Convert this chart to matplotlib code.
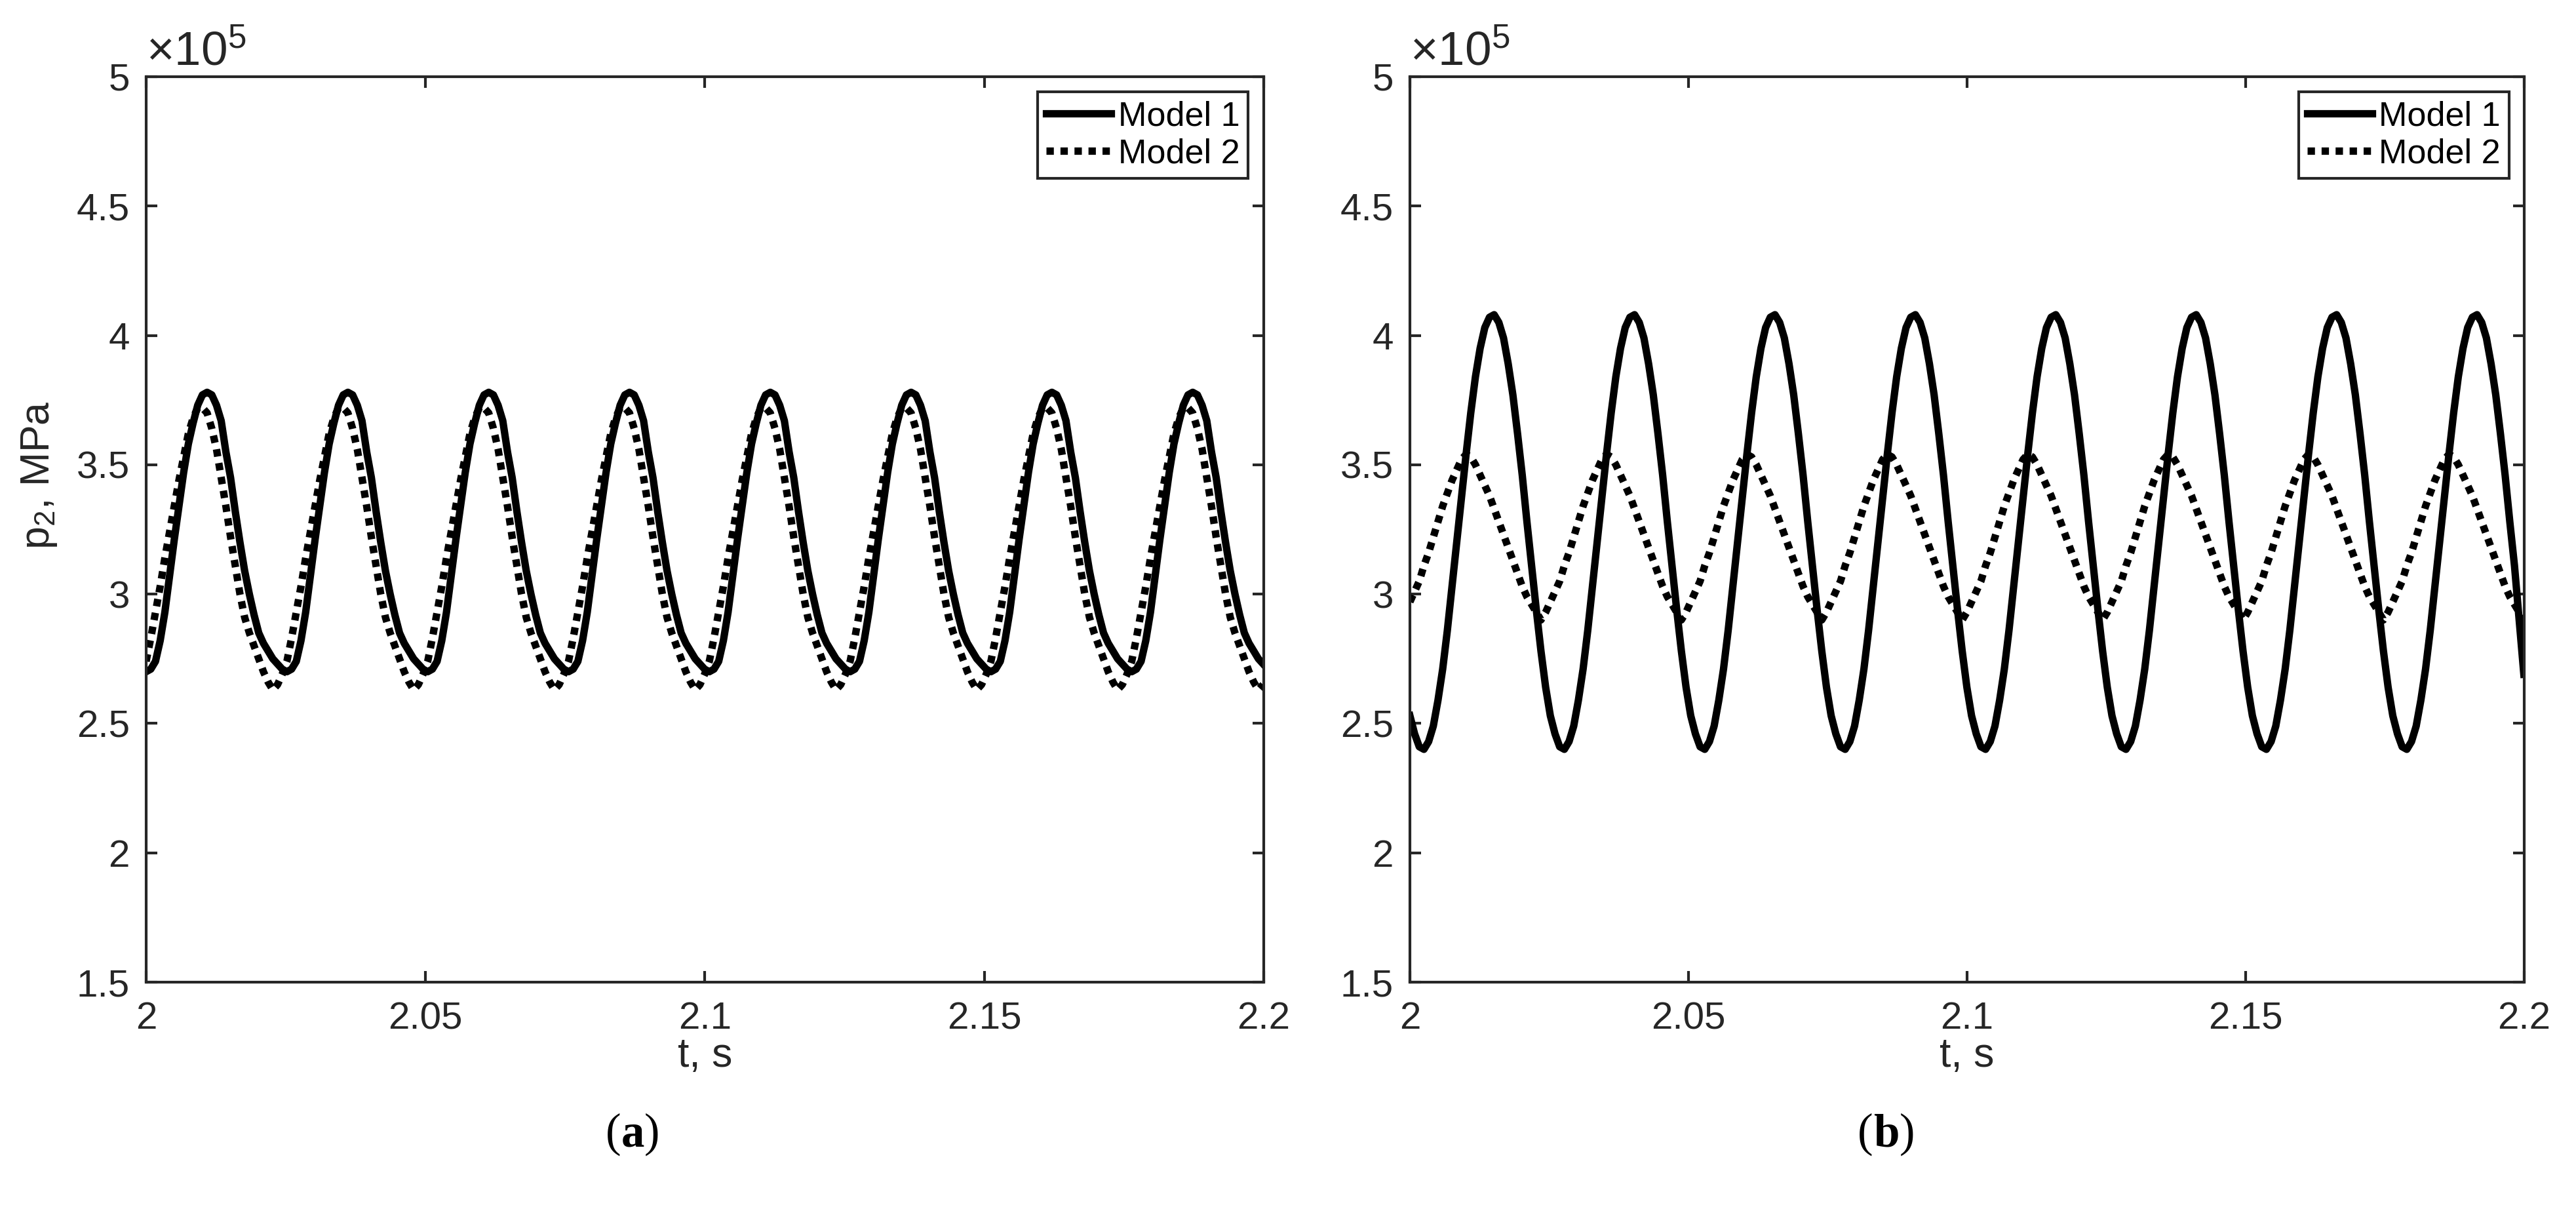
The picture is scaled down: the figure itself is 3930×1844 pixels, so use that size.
import numpy as np
import matplotlib.pyplot as plt

plt.rcParams['font.family'] = ['Liberation Sans', 'DejaVu Sans']
plt.rcParams['mathtext.fontset'] = 'custom'
plt.rcParams['mathtext.rm'] = 'Liberation Sans'
plt.rcParams['mathtext.it'] = 'Liberation Sans:italic'
plt.rcParams['mathtext.bf'] = 'Liberation Sans:bold'

AX_COLOR = '#262626'
TICK_FS = 14
LABEL_FS = 15
LEG_FS = 12.5

# time samples: every 0.84 ms (30 per 25.2 ms cycle), 2.0 ... 2.2 s
t = 2.0 + 0.00084 * np.arange(239)

# (a) p2 in units of 1e5 Pa, one row per cycle
p2_model1_a = [
    2.70, 2.71, 2.74, 2.82, 2.93, 3.07, 3.21, 3.34, 3.47, 3.58, 3.66, 3.73, 3.77, 3.78, 3.77, 3.73, 3.67, 3.55, 3.45, 3.32, 3.20, 3.09, 3.00, 2.92, 2.85, 2.81, 2.78, 2.75, 2.73, 2.71,
    2.70, 2.71, 2.74, 2.82, 2.93, 3.07, 3.21, 3.34, 3.47, 3.58, 3.66, 3.73, 3.77, 3.78, 3.77, 3.73, 3.67, 3.55, 3.45, 3.32, 3.20, 3.09, 3.00, 2.92, 2.85, 2.81, 2.78, 2.75, 2.73, 2.71,
    2.70, 2.71, 2.74, 2.82, 2.93, 3.07, 3.21, 3.34, 3.47, 3.58, 3.66, 3.73, 3.77, 3.78, 3.77, 3.73, 3.67, 3.55, 3.45, 3.32, 3.20, 3.09, 3.00, 2.92, 2.85, 2.81, 2.78, 2.75, 2.73, 2.71,
    2.70, 2.71, 2.74, 2.82, 2.93, 3.07, 3.21, 3.34, 3.47, 3.58, 3.66, 3.73, 3.77, 3.78, 3.77, 3.73, 3.67, 3.55, 3.45, 3.32, 3.20, 3.09, 3.00, 2.92, 2.85, 2.81, 2.78, 2.75, 2.73, 2.71,
    2.70, 2.71, 2.74, 2.82, 2.93, 3.07, 3.21, 3.34, 3.47, 3.58, 3.66, 3.73, 3.77, 3.78, 3.77, 3.73, 3.67, 3.55, 3.45, 3.32, 3.20, 3.09, 3.00, 2.92, 2.85, 2.81, 2.78, 2.75, 2.73, 2.71,
    2.70, 2.71, 2.74, 2.82, 2.93, 3.07, 3.21, 3.34, 3.47, 3.58, 3.66, 3.73, 3.77, 3.78, 3.77, 3.73, 3.67, 3.55, 3.45, 3.32, 3.20, 3.09, 3.00, 2.92, 2.85, 2.81, 2.78, 2.75, 2.73, 2.71,
    2.70, 2.71, 2.74, 2.82, 2.93, 3.07, 3.21, 3.34, 3.47, 3.58, 3.66, 3.73, 3.77, 3.78, 3.77, 3.73, 3.67, 3.55, 3.45, 3.32, 3.20, 3.09, 3.00, 2.92, 2.85, 2.81, 2.78, 2.75, 2.73, 2.71,
    2.70, 2.71, 2.74, 2.82, 2.93, 3.07, 3.21, 3.34, 3.47, 3.58, 3.66, 3.73, 3.77, 3.78, 3.77, 3.73, 3.67, 3.55, 3.45, 3.32, 3.20, 3.09, 3.00, 2.92, 2.85, 2.81, 2.78, 2.75, 2.73,
]
p2_model2_a = [
    2.74, 2.83, 2.93, 3.03, 3.14, 3.24, 3.34, 3.44, 3.53, 3.62, 3.68, 3.72, 3.72, 3.70, 3.64, 3.56, 3.45, 3.34, 3.22, 3.11, 3.00, 2.91, 2.85, 2.80, 2.75, 2.70, 2.66, 2.63, 2.65, 2.69,
    2.74, 2.83, 2.93, 3.03, 3.14, 3.24, 3.34, 3.44, 3.53, 3.62, 3.68, 3.72, 3.72, 3.70, 3.64, 3.56, 3.45, 3.34, 3.22, 3.11, 3.00, 2.91, 2.85, 2.80, 2.75, 2.70, 2.66, 2.63, 2.65, 2.69,
    2.74, 2.83, 2.93, 3.03, 3.14, 3.24, 3.34, 3.44, 3.53, 3.62, 3.68, 3.72, 3.72, 3.70, 3.64, 3.56, 3.45, 3.34, 3.22, 3.11, 3.00, 2.91, 2.85, 2.80, 2.75, 2.70, 2.66, 2.63, 2.65, 2.69,
    2.74, 2.83, 2.93, 3.03, 3.14, 3.24, 3.34, 3.44, 3.53, 3.62, 3.68, 3.72, 3.72, 3.70, 3.64, 3.56, 3.45, 3.34, 3.22, 3.11, 3.00, 2.91, 2.85, 2.80, 2.75, 2.70, 2.66, 2.63, 2.65, 2.69,
    2.74, 2.83, 2.93, 3.03, 3.14, 3.24, 3.34, 3.44, 3.53, 3.62, 3.68, 3.72, 3.72, 3.70, 3.64, 3.56, 3.45, 3.34, 3.22, 3.11, 3.00, 2.91, 2.85, 2.80, 2.75, 2.70, 2.66, 2.63, 2.65, 2.69,
    2.74, 2.83, 2.93, 3.03, 3.14, 3.24, 3.34, 3.44, 3.53, 3.62, 3.68, 3.72, 3.72, 3.70, 3.64, 3.56, 3.45, 3.34, 3.22, 3.11, 3.00, 2.91, 2.85, 2.80, 2.75, 2.70, 2.66, 2.63, 2.65, 2.69,
    2.74, 2.83, 2.93, 3.03, 3.14, 3.24, 3.34, 3.44, 3.53, 3.62, 3.68, 3.72, 3.72, 3.70, 3.64, 3.56, 3.45, 3.34, 3.22, 3.11, 3.00, 2.91, 2.85, 2.80, 2.75, 2.70, 2.66, 2.63, 2.65, 2.69,
    2.74, 2.83, 2.93, 3.03, 3.14, 3.24, 3.34, 3.44, 3.53, 3.62, 3.68, 3.72, 3.72, 3.70, 3.64, 3.56, 3.45, 3.34, 3.22, 3.11, 3.00, 2.91, 2.85, 2.80, 2.75, 2.70, 2.66, 2.63, 2.65,
]

# (b) p2 in units of 1e5 Pa
p2_model1_b = [
    2.53, 2.46, 2.41, 2.40, 2.43, 2.49, 2.59, 2.71, 2.86, 3.03, 3.20, 3.37, 3.54, 3.70, 3.84, 3.95, 4.03, 4.07, 4.08, 4.05, 3.99, 3.89, 3.77, 3.62, 3.46, 3.28, 3.11, 2.94, 2.78, 2.64,
    2.53, 2.46, 2.41, 2.40, 2.43, 2.49, 2.59, 2.71, 2.86, 3.03, 3.20, 3.37, 3.54, 3.70, 3.84, 3.95, 4.03, 4.07, 4.08, 4.05, 3.99, 3.89, 3.77, 3.62, 3.46, 3.28, 3.11, 2.94, 2.78, 2.64,
    2.53, 2.46, 2.41, 2.40, 2.43, 2.49, 2.59, 2.71, 2.86, 3.03, 3.20, 3.37, 3.54, 3.70, 3.84, 3.95, 4.03, 4.07, 4.08, 4.05, 3.99, 3.89, 3.77, 3.62, 3.46, 3.28, 3.11, 2.94, 2.78, 2.64,
    2.53, 2.46, 2.41, 2.40, 2.43, 2.49, 2.59, 2.71, 2.86, 3.03, 3.20, 3.37, 3.54, 3.70, 3.84, 3.95, 4.03, 4.07, 4.08, 4.05, 3.99, 3.89, 3.77, 3.62, 3.46, 3.28, 3.11, 2.94, 2.78, 2.64,
    2.53, 2.46, 2.41, 2.40, 2.43, 2.49, 2.59, 2.71, 2.86, 3.03, 3.20, 3.37, 3.54, 3.70, 3.84, 3.95, 4.03, 4.07, 4.08, 4.05, 3.99, 3.89, 3.77, 3.62, 3.46, 3.28, 3.11, 2.94, 2.78, 2.64,
    2.53, 2.46, 2.41, 2.40, 2.43, 2.49, 2.59, 2.71, 2.86, 3.03, 3.20, 3.37, 3.54, 3.70, 3.84, 3.95, 4.03, 4.07, 4.08, 4.05, 3.99, 3.89, 3.77, 3.62, 3.46, 3.28, 3.11, 2.94, 2.78, 2.64,
    2.53, 2.46, 2.41, 2.40, 2.43, 2.49, 2.59, 2.71, 2.86, 3.03, 3.20, 3.37, 3.54, 3.70, 3.84, 3.95, 4.03, 4.07, 4.08, 4.05, 3.99, 3.89, 3.77, 3.62, 3.46, 3.28, 3.11, 2.94, 2.78, 2.64,
    2.53, 2.46, 2.41, 2.40, 2.43, 2.49, 2.59, 2.71, 2.86, 3.03, 3.20, 3.37, 3.54, 3.70, 3.84, 3.95, 4.03, 4.07, 4.08, 4.05, 3.99, 3.89, 3.77, 3.62, 3.46, 3.28, 3.11, 2.90, 2.69,
]
p2_model2_b = [
    2.97, 3.01, 3.05, 3.11, 3.16, 3.22, 3.28, 3.34, 3.39, 3.44, 3.48, 3.52, 3.54, 3.53, 3.50, 3.46, 3.42, 3.38, 3.33, 3.28, 3.23, 3.18, 3.13, 3.08, 3.03, 2.99, 2.96, 2.93, 2.90, 2.93,
    2.97, 3.01, 3.05, 3.11, 3.16, 3.22, 3.28, 3.34, 3.39, 3.44, 3.48, 3.52, 3.54, 3.53, 3.50, 3.46, 3.42, 3.38, 3.33, 3.28, 3.23, 3.18, 3.13, 3.08, 3.03, 2.99, 2.96, 2.93, 2.90, 2.93,
    2.97, 3.01, 3.05, 3.11, 3.16, 3.22, 3.28, 3.34, 3.39, 3.44, 3.48, 3.52, 3.54, 3.53, 3.50, 3.46, 3.42, 3.38, 3.33, 3.28, 3.23, 3.18, 3.13, 3.08, 3.03, 2.99, 2.96, 2.93, 2.90, 2.93,
    2.97, 3.01, 3.05, 3.11, 3.16, 3.22, 3.28, 3.34, 3.39, 3.44, 3.48, 3.52, 3.54, 3.53, 3.50, 3.46, 3.42, 3.38, 3.33, 3.28, 3.23, 3.18, 3.13, 3.08, 3.03, 2.99, 2.96, 2.93, 2.90, 2.93,
    2.97, 3.01, 3.05, 3.11, 3.16, 3.22, 3.28, 3.34, 3.39, 3.44, 3.48, 3.52, 3.54, 3.53, 3.50, 3.46, 3.42, 3.38, 3.33, 3.28, 3.23, 3.18, 3.13, 3.08, 3.03, 2.99, 2.96, 2.93, 2.90, 2.93,
    2.97, 3.01, 3.05, 3.11, 3.16, 3.22, 3.28, 3.34, 3.39, 3.44, 3.48, 3.52, 3.54, 3.53, 3.50, 3.46, 3.42, 3.38, 3.33, 3.28, 3.23, 3.18, 3.13, 3.08, 3.03, 2.99, 2.96, 2.93, 2.90, 2.93,
    2.97, 3.01, 3.05, 3.11, 3.16, 3.22, 3.28, 3.34, 3.39, 3.44, 3.48, 3.52, 3.54, 3.53, 3.50, 3.46, 3.42, 3.38, 3.33, 3.28, 3.23, 3.18, 3.13, 3.08, 3.03, 2.99, 2.96, 2.93, 2.90, 2.93,
    2.97, 3.01, 3.05, 3.11, 3.16, 3.22, 3.28, 3.34, 3.39, 3.44, 3.48, 3.52, 3.54, 3.53, 3.50, 3.46, 3.42, 3.38, 3.33, 3.28, 3.23, 3.18, 3.13, 3.08, 3.03, 2.99, 2.96, 2.93, 2.90,
]

x_ticks = [2.0, 2.05, 2.1, 2.15, 2.2]
x_ticklabels = ['2', '2.05', '2.1', '2.15', '2.2']
y_ticks = [1.5, 2.0, 2.5, 3.0, 3.5, 4.0, 4.5, 5.0]
y_ticklabels = ['1.5', '2', '2.5', '3', '3.5', '4', '4.5', '5']
series_labels = ['Model 1', 'Model 2']
panel_tags = ['a', 'b']


def style_axes(ax):
    ax.set_xlim(2.0, 2.2)
    ax.set_ylim(1.5, 5.0)
    ax.set_xticks(x_ticks)
    ax.set_xticklabels(x_ticklabels)
    ax.set_yticks(y_ticks)
    ax.set_yticklabels(y_ticklabels)
    ax.tick_params(direction='in', length=4, width=1.0, top=True, right=True,
                   color=AX_COLOR, labelcolor=AX_COLOR, labelsize=TICK_FS)
    ax.tick_params(axis='x', pad=7)
    ax.tick_params(axis='y', pad=6)
    for sp in ax.spines.values():
        sp.set_linewidth(1.0)
        sp.set_color(AX_COLOR)
    ax.set_xlabel('t, s', fontsize=LABEL_FS, color=AX_COLOR, labelpad=0)
    ax.text(0.0, 1.002, r'$\times10^{5}$', transform=ax.transAxes, ha='left',
            va='bottom', fontsize=TICK_FS * 1.25, color=AX_COLOR)


def draw(ax, y1, y2):
    ax.plot(t, y1, color='black', lw=2.7, solid_joinstyle='round', label=series_labels[0])
    ax.plot(t, y2, color='black', lw=2.7, linestyle=(0, (1, 0.9)), label=series_labels[1])
    style_axes(ax)
    leg = ax.legend(loc='upper right', fontsize=LEG_FS, frameon=True, fancybox=False,
                    framealpha=1, edgecolor=AX_COLOR, handlelength=1.9,
                    handletextpad=0.2, borderpad=0.25, labelspacing=0.15,
                    borderaxespad=0.45)
    leg.get_frame().set_linewidth(1.0)


def panel_tag(fig, ax, x, y, letter):
    # "(a)" with a bold letter and plain brackets, Times-like
    kw = dict(fontsize=17, family='Liberation Serif', va='baseline', ha='left', color='black')
    t1 = fig.text(x, y, '(', **kw)
    t2 = ax.annotate(letter, xy=(1, y), xycoords=(t1, 'figure fraction'),
                     fontweight='bold', annotation_clip=False, **kw)
    ax.annotate(')', xy=(1, y), xycoords=(t2, 'figure fraction'),
                annotation_clip=False, **kw)


fig = plt.figure(figsize=(13.103, 6.1467), dpi=300)
ax_a = fig.add_axes([0.0567, 0.1876, 0.4337, 0.749])
ax_b = fig.add_axes([0.5472, 0.1876, 0.4325, 0.749])

draw(ax_a, p2_model1_a, p2_model2_a)
draw(ax_b, p2_model1_b, p2_model2_b)
ax_a.set_ylabel(r'p$_{2}$, MPa', fontsize=LABEL_FS, color=AX_COLOR)
ax_a.yaxis.set_label_coords(-0.078, 0.56)

panel_tag(fig, ax_a, 0.235, 0.052, panel_tags[0])
panel_tag(fig, ax_b, 0.721, 0.052, panel_tags[1])

fig.savefig('out.png', dpi=300)
